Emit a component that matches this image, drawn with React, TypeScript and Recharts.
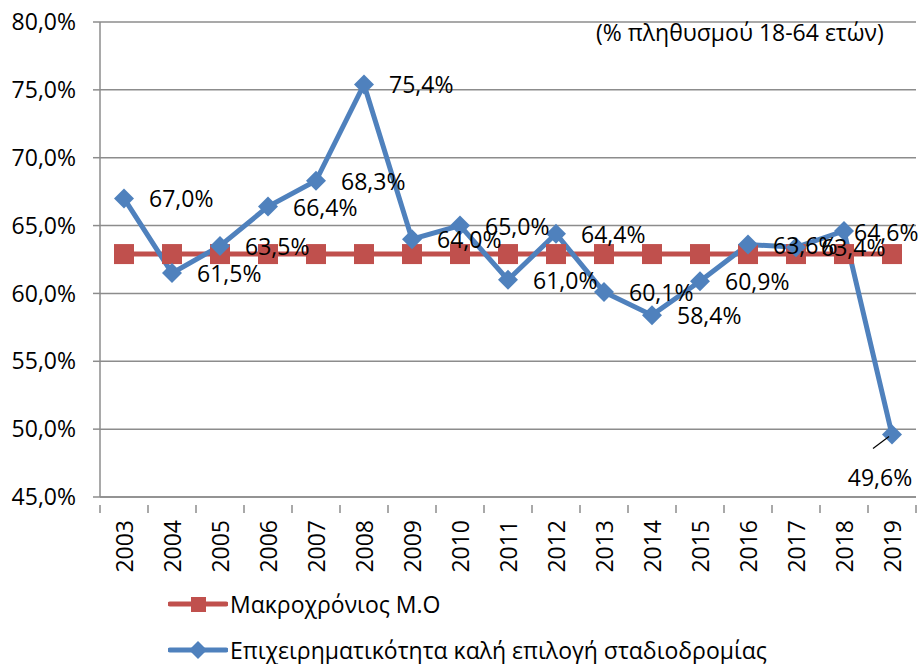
import React from 'react';
import { LineChart, Line, XAxis, YAxis, CartesianGrid } from 'recharts';

const years = ['2003', '2004', '2005', '2006', '2007', '2008', '2009', '2010', '2011', '2012', '2013', '2014', '2015', '2016', '2017', '2018', '2019'];
const entrepreneurship = [67.0, 61.5, 63.5, 66.4, 68.3, 75.4, 64.0, 65.0, 61.0, 64.4, 60.1, 58.4, 60.9, 63.6, 63.4, 64.6, 49.6];
const longRunAvg = 62.9;
const yTicks = [45, 50, 55, 60, 65, 70, 75, 80];

const seriesAvg = 'Μακροχρόνιος Μ.Ο';
const seriesMain = 'Επιχειρηματικότητα καλή επιλογή σταδιοδρομίας';
const note = '(% πληθυσμού 18-64 ετών)';

const data = years.map((y, i) => ({ year: y, avg: longRunAvg, main: entrepreneurship[i] }));

const RED = '#C0504D';
const BLUE = '#4F81BD';
const GRID = '#8C8C8C';
const FONT = '"Open Sans", "Noto Sans", sans-serif';

const W = 919;
const H = 664;
const LEFT = 100;
const RIGHT = 3;
const HALF_BAND = (W - LEFT - RIGHT) / years.length / 2;

const pct = (v: number) => `${v.toFixed(1).replace('.', ',')}%`;

const SquareDot = (props: any) => {
  const { cx, cy } = props;
  if (cx == null || cy == null) return null;
  return <rect x={cx - 10} y={cy - 10} width={20} height={20} fill={RED} />;
};

const DiamondDot = (props: any) => {
  const { cx, cy } = props;
  if (cx == null || cy == null) return null;
  const r = 10;
  return <polygon points={`${cx},${cy - r} ${cx + r},${cy} ${cx},${cy + r} ${cx - r},${cy}`} fill={BLUE} />;
};

const MainLabel = (props: any) => {
  const { x, y, value, index } = props;
  if (x == null || y == null) return null;
  const yr = years[index];
  if (yr === '2019') {
    return (
      <g>
        <line x1={x - 3} y1={y + 2} x2={x - 19} y2={y + 14} stroke="#000" strokeWidth={1.2} />
        <text x={x - 12} y={y + 42} textAnchor="middle" dominantBaseline="central" fontSize={23} fontFamily={FONT} fill="#000">
          {pct(value)}
        </text>
      </g>
    );
  }
  const dx = yr === '2018' ? 10 : 25;
  const dy = yr === '2018' ? 1 : 0;
  return (
    <text x={x + dx} y={y + dy} textAnchor="start" dominantBaseline="central" fontSize={23} fontFamily={FONT} fill="#000">
      {pct(value)}
    </text>
  );
};

const YearTick = (props: any) => {
  const { x, y, payload, index } = props;
  return (
    <g>
      <line x1={x - HALF_BAND} y1={y} x2={x - HALF_BAND} y2={y + 8} stroke={GRID} strokeWidth={1.5} />
      {index === years.length - 1 && (
        <line x1={x + HALF_BAND} y1={y} x2={x + HALF_BAND} y2={y + 8} stroke={GRID} strokeWidth={1.5} />
      )}
      <text x={x} y={y + 15} transform={`rotate(-90 ${x} ${y + 15})`} textAnchor="end" dominantBaseline="central" fontSize={23} fontFamily={FONT} fill="#000">
        {payload.value}
      </text>
    </g>
  );
};

const LegendRow = ({ color, label, shape }: { color: string; label: string; shape: 'square' | 'diamond' }) => (
  <div style={{ display: 'flex', alignItems: 'center', height: 26 }}>
    <svg width={60} height={24} style={{ marginRight: 2 }}>
      <line x1={2} y1={12} x2={58} y2={12} stroke={color} strokeWidth={5} strokeLinecap="round" />
      {shape === 'square' ? (
        <rect x={23} y={5} width={15} height={15} fill={color} />
      ) : (
        <polygon points="30,3 39,12 30,21 21,12" fill={color} />
      )}
    </svg>
    <span style={{ fontSize: 23, lineHeight: '26px', color: '#000', whiteSpace: 'nowrap' }}>{label}</span>
  </div>
);

export default function App() {
  return (
    <div style={{ position: 'absolute', left: 0, top: 0, width: W, height: H, background: '#fff', fontFamily: FONT, overflow: 'hidden' }}>
      <LineChart width={W} height={H} data={data} margin={{ top: 22, right: RIGHT, left: 0, bottom: 0 }}>
        <CartesianGrid vertical={false} stroke={GRID} strokeWidth={1.5} />
        <XAxis
          dataKey="year"
          height={H - 497}
          stroke={GRID}
          strokeWidth={1.5}
          tickLine={false}
          interval={0}
          padding={{ left: HALF_BAND, right: HALF_BAND }}
          tick={<YearTick />}
        />
        <YAxis
          domain={[45, 80]}
          ticks={yTicks}
          width={LEFT}
          stroke={GRID}
          strokeWidth={1.5}
          tickSize={7}
          tickMargin={17}
          tickFormatter={pct}
          tick={{ fontSize: 23, fill: '#000', fontFamily: FONT }}
        />
        <Line dataKey="avg" stroke={RED} strokeWidth={5} dot={<SquareDot />} activeDot={false} isAnimationActive={false} />
        <Line dataKey="main" stroke={BLUE} strokeWidth={5} dot={<DiamondDot />} activeDot={false} isAnimationActive={false} label={<MainLabel />} />
      </LineChart>
      <div style={{ position: 'absolute', left: 596, top: 16, fontSize: 23, color: '#000', whiteSpace: 'nowrap' }}>{note}</div>
      <div style={{ position: 'absolute', left: 168, top: 591 }}>
        <LegendRow color={RED} label={seriesAvg} shape="square" />
        <div style={{ height: 20 }} />
        <LegendRow color={BLUE} label={seriesMain} shape="diamond" />
      </div>
    </div>
  );
}
